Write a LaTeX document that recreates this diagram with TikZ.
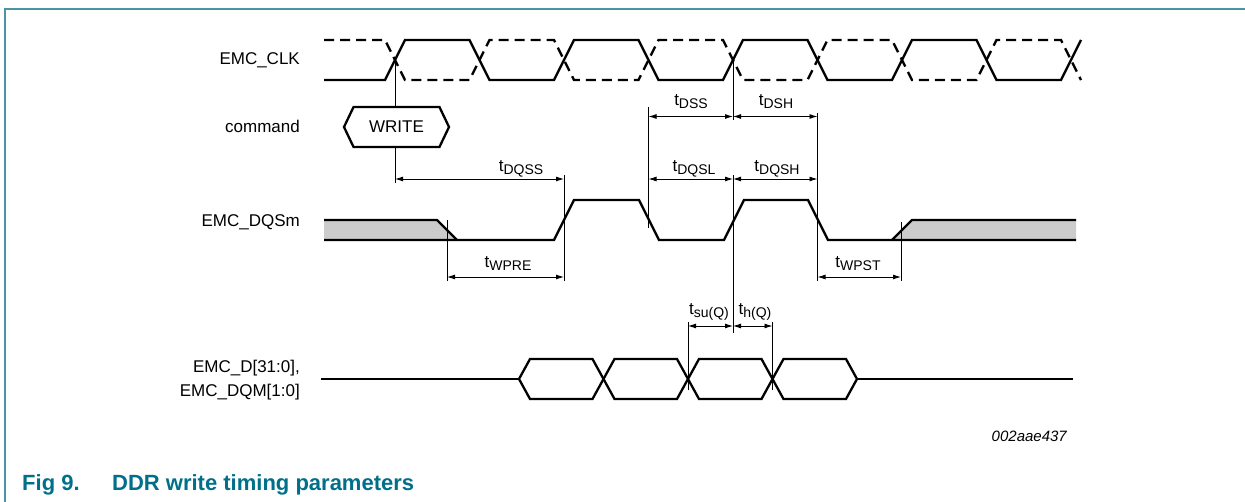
\documentclass[tikz,border=0pt]{standalone}
\usepackage{fontspec}
\setmainfont{Liberation Sans}
\usepackage{xcolor}
\usetikzlibrary{arrows.meta, shapes.symbols}

\definecolor{framecol}{RGB}{74,150,160}
\definecolor{capcol}{RGB}{0,112,138}
\definecolor{shadecol}{RGB}{204,204,204}

\newcommand{\tsub}[1]{t\raisebox{-2.5pt}{\fontsize{14}{14}\selectfont #1}}

\begin{document}
\begin{tikzpicture}[x=1pt, y=-1pt, >={Latex[length=8pt,width=5pt]},
		sig/.style={line width=2.3pt},
		clkdash/.style={sig, dash pattern=on 10pt off 6pt},
		guide/.style={line width=0.9pt},
		dim/.style={line width=0.9pt, <->},
		siglabel/.style={anchor=base east, inner sep=0pt, font=\fontsize{17}{20}\selectfont},
		timelabel/.style={anchor=base, inner sep=0pt, font=\fontsize{17}{20}\selectfont}]
	\useasboundingbox (0,0) rectangle (1245,502);

	% frame
	\draw[framecol, line width=1.5pt] (5,502) -- (5,9) -- (1245,9);

	% signal names
	\node (clklabel) [siglabel] at (300,65) {EMC\_CLK};
	\node (cmdlabel) [siglabel] at (300,133) {command};
	\node (dqslabel) [siglabel] at (300,227) {EMC\_DQSm};
	\node (dlabel) [siglabel] at (300,373) {EMC\_D[31:0],};
	\node (dqmlabel) [siglabel] at (300,396) {EMC\_DQM[1:0]};

	% shaded don't-care parts of DQS
	\fill[shadecol] (324,220) -- (437,220) -- (457,240) -- (324,240) -- cycle;
	\fill[shadecol] (892,240) -- (912,220) -- (1076,220) -- (1076,240) -- cycle;

	% guide lines
	\foreach \x/\ya/\yb in {395/60/183, 447/220/281, 564/175/281, 648.5/107/228,
			733/62/120, 733/175/333, 817.5/113/281, 901/222/281,
			688/322/390, 772.5/322/390}
		\draw[guide] (\x,\ya) -- (\x,\yb);

	% EMC_CLK and its complement
	\draw[clkdash] (324,40) \foreach \j in {0,...,3} {
			-- ({385+169*\j},40) -- ({405+169*\j},80)
			-- ({469.5+169*\j},80) -- ({489.5+169*\j},40) } -- (1061,40) -- (1081,80);
	\draw[sig] (324,80) \foreach \j in {0,...,3} {
			-- ({385+169*\j},80) -- ({405+169*\j},40)
			-- ({469.5+169*\j},40) -- ({489.5+169*\j},80) } -- (1061,80) -- (1081,40);

	% command
	\node (write) [draw, fill=white, sig, signal, signal to=west and east,
		signal pointer angle=129, minimum width=105pt, minimum height=40pt,
		inner sep=0pt, font=\fontsize{17}{20}\selectfont] at (396.5,127) {WRITE};

	% EMC_DQSm
	\draw[sig] (324,220) -- (437,220) -- (457,240);
	\draw[sig] (324,240) -- (554,240) -- (574,200) -- (639,200) -- (659,240)
		-- (724,240) -- (744,200) -- (808,200) -- (828,240) -- (1076,240);
	\draw[sig] (892,240) -- (912,220) -- (1076,220);

	% data bus
	\draw[sig] (321,379) -- (519,379);
	\foreach \i in {0,...,3}
		\draw[sig] ({519+84.5*\i},379) -- ({530+84.5*\i},359) -- ({592.5+84.5*\i},359)
			-- ({603.5+84.5*\i},379) -- ({592.5+84.5*\i},399) -- ({530+84.5*\i},399) -- cycle;
	\draw[sig] (857,379) -- (1073,379);

	% timing parameters
	\foreach \name/\xa/\xb/\y/\lx/\ly/\sub in {dss/648.5/733/116.5/691/106/DSS,
			dsh/733/817.5/116.5/776/106/DSH, dqss/395/564/179/521/172/DQSS,
			dqsl/648.5/733/179/694/172/DQSL, dqsh/733/817.5/179/777/172/DQSH,
			wpre/447/564/277/508/268/WPRE, wpst/817.5/901/277/858/268/WPST,
			su/688/733/326/709/315/su(Q), h/733/772.5/326/755/315/h(Q)} {
		\coordinate (\name a) at (\xa,\y);
		\coordinate (\name b) at (\xb,\y);
		\draw[dim] (\name a) -- (\name b);
		\node (\name) [timelabel] at (\lx,\ly) {\tsub{\sub}};
	}

	% figure code and caption
	\node (figcode) [anchor=base east, inner sep=0pt,
		font=\fontsize{15}{18}\selectfont\itshape] at (1067,442) {002aae437};
	\node (figno) [anchor=base west, inner sep=0pt, text=capcol,
		font=\fontsize{22}{26}\selectfont\bfseries] at (22,490) {Fig 9.};
	\node (figtitle) [anchor=base west, inner sep=0pt, text=capcol,
		font=\fontsize{22}{26}\selectfont\bfseries] at (112,490) {DDR write timing parameters};
\end{tikzpicture}
\end{document}
